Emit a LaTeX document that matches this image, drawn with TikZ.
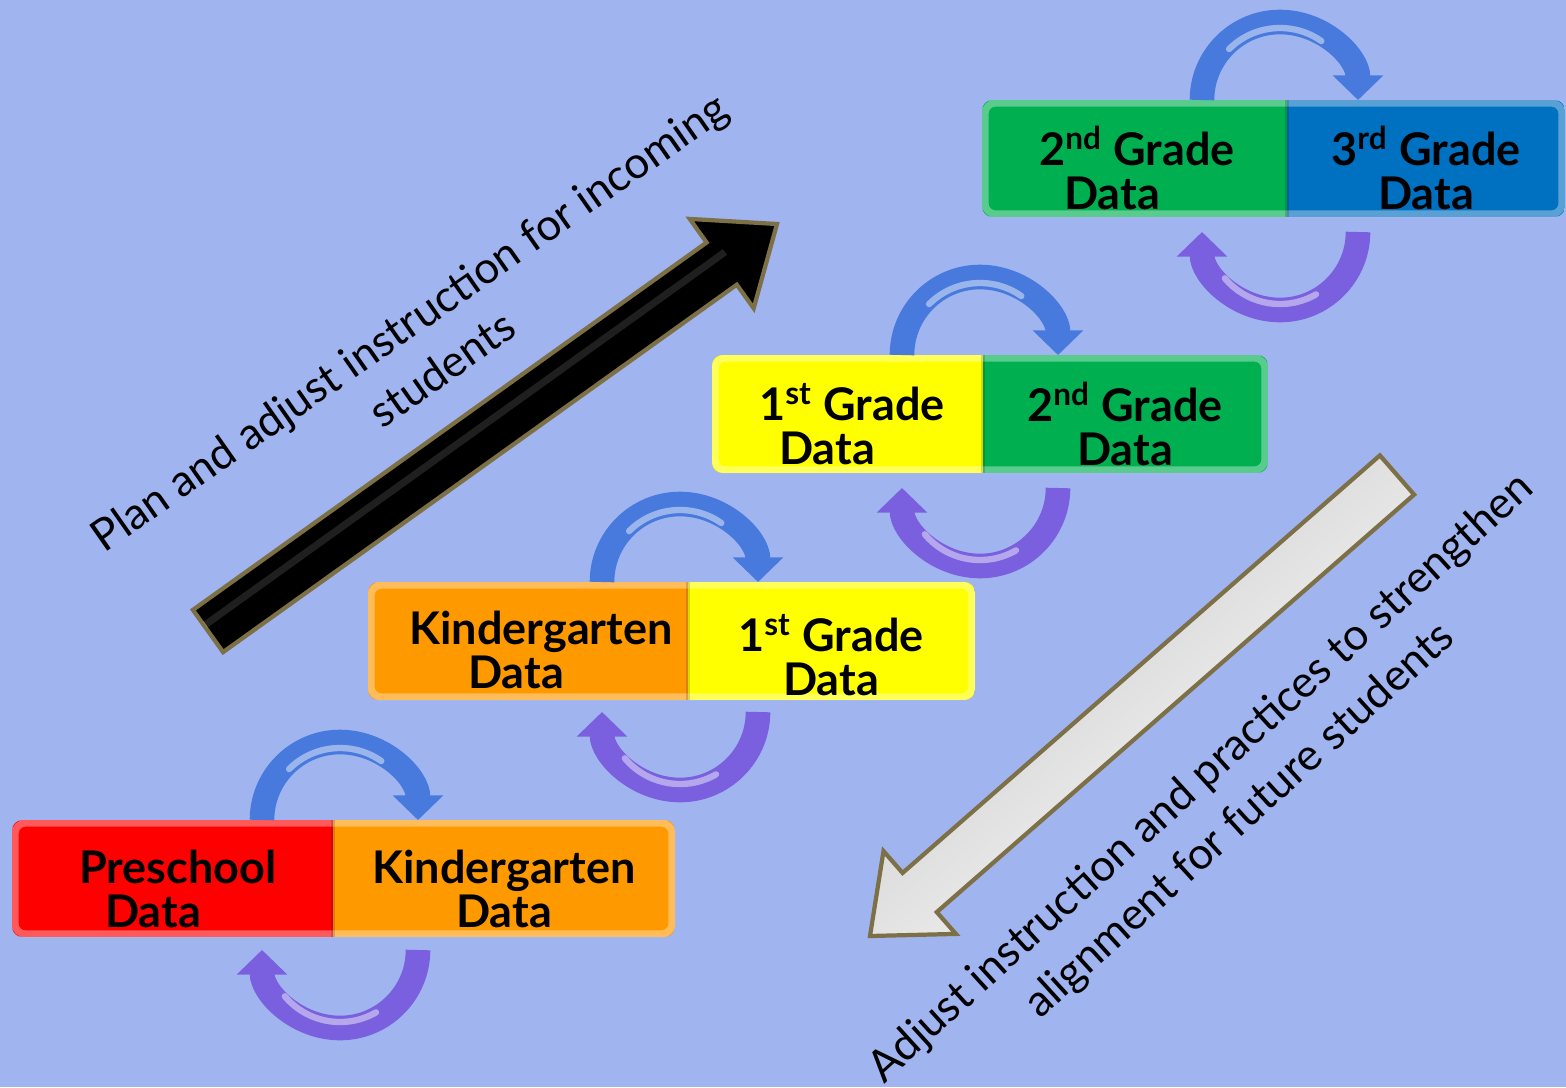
\documentclass[tikz,border=0pt]{standalone}
\usepackage{fontspec}
\setmainfont{Lato}
\usetikzlibrary{arrows.meta}

\definecolor{bgblue}{RGB}{160,180,240}
\definecolor{boxred}{RGB}{255,0,0}
\definecolor{boxorange}{RGB}{255,153,0}
\definecolor{boxyellow}{RGB}{255,255,0}
\definecolor{boxgreen}{RGB}{0,176,80}
\definecolor{boxblue}{RGB}{0,112,192}
\definecolor{arcblue}{RGB}{72,122,222}
\definecolor{arcpurple}{RGB}{122,96,222}
\definecolor{olive}{RGB}{125,112,70}

\tikzset{
    datlbl/.style={align=center, inner sep=0pt, font=\fontsize{12.8}{12.5}\selectfont\bfseries},
    notelbl/.style={align=center, inner sep=0pt, font=\fontsize{12.5}{16.3}\selectfont},
    bigarrow/.style={draw=olive, line width=1.2pt, line join=miter},
    toparc/.style={draw=arcblue, line width=7pt, -{Triangle[width=14pt,length=7pt]}},
    botarc/.style={draw=arcpurple, line width=7pt, -{Triangle[width=14pt,length=7pt]}},
    gloss/.style={draw=white, opacity=.45, line width=1.8pt, line cap=round}
}

\begin{document}
\begin{tikzpicture}[x=0.01cm,y=-0.01cm]
    % Background
    \fill[bgblue] (0,0) rectangle (1566,1087);
    \useasboundingbox (0,0) rectangle (1566,1087);

    % Big arrows
    \filldraw[bigarrow, fill=black] (192.9,609.9) -- (706.6,242.5) -- (689.7,218.9) -- (777,224)
        -- (753.7,308.3) -- (736.8,284.7) -- (223.1,652.1) -- cycle;
    \draw[white, opacity=.12, line width=2pt] (205,625) -- (725,252);
    \shadedraw[bigarrow, left color=gray!45, right color=white, shading angle=41]
        (1379.9,455.4) -- (902.6,872.9) -- (883.5,851.1) -- (870,936)
        -- (955.9,933.9) -- (936.8,912.1) -- (1414.1,494.6) -- cycle;

    % Notes
    \node[notelbl, rotate=35] (plan) at (425,345) {Plan and adjust instruction for incoming\\students};
    \node[notelbl, rotate=42.3] (adjust) at (1221,800) {Adjust instruction and practices to strengthen\\alignment for future students};

    % Grade boxes
    \foreach \i/\xa/\xm/\xb/\ya/\yb/\cl/\cr in {1/12/333/675/820/937/boxred/boxorange,
        2/368/688/975/582/700/boxorange/boxyellow, 3/712/983/1268/355/473/boxyellow/boxgreen,
        4/982/1287/1565/100/217/boxgreen/boxblue} {
        \begin{scope}
            \clip[rounded corners=3pt] (\xa,\ya) rectangle (\xb,\yb);
            \fill[\cl] (\xa,\ya) rectangle (\xm,\yb);
            \fill[\cr] (\xm,\ya) rectangle (\xb,\yb);
            \draw[white, opacity=.35, line width=2pt, rounded corners=3pt] (\xa+3,\ya+3) rectangle (\xb-3,\yb-3);
            \draw[black, opacity=.15, line width=1pt] (\xm,\ya) -- (\xm,\yb);
        \end{scope}
    }
    \foreach \name/\txt/\x/\y in {pre/{Preschool\\Data\hspace*{0.5cm}}/178/889, kinA/{Kindergarten\\Data}/504/889,
        kinB/{Kindergarten\\Data\hspace*{0.5cm}}/541/650, firA/{1\textsuperscript{st} Grade\\Data}/831/655,
        firB/{1\textsuperscript{st} Grade\\Data\hspace*{0.5cm}}/852/424, secA/{2\textsuperscript{nd} Grade\\Data}/1125/424,
        secB/{2\textsuperscript{nd} Grade\\Data\hspace*{0.5cm}}/1137/168, thi/{3\textsuperscript{rd} Grade\\Data}/1426/168} {
        \node[datlbl] (\name) at (\x,\y) {\txt};
    }

    % Hand-over arcs
    \foreach \i/\cx/\yt/\yb in {1/340/820/950, 2/680/582/712, 3/980/355/488, 4/1280/100/232} {
        \coordinate (up-\i) at ({\cx-78},\yt);
        \coordinate (down-\i) at ({\cx+78},\yb);
        \draw[toparc] (up-\i) arc[start angle=180, end angle=360, radius=78];
        \draw[botarc] (down-\i) arc[start angle=0, end angle=180, radius=78];
        \draw[gloss] ([shift={(225:72)}]\cx,\yt) arc[start angle=225, end angle=305, radius=72];
        \draw[gloss] ([shift={(60:72)}]\cx,\yb) arc[start angle=60, end angle=140, radius=72];
    }
\end{tikzpicture}
\end{document}
